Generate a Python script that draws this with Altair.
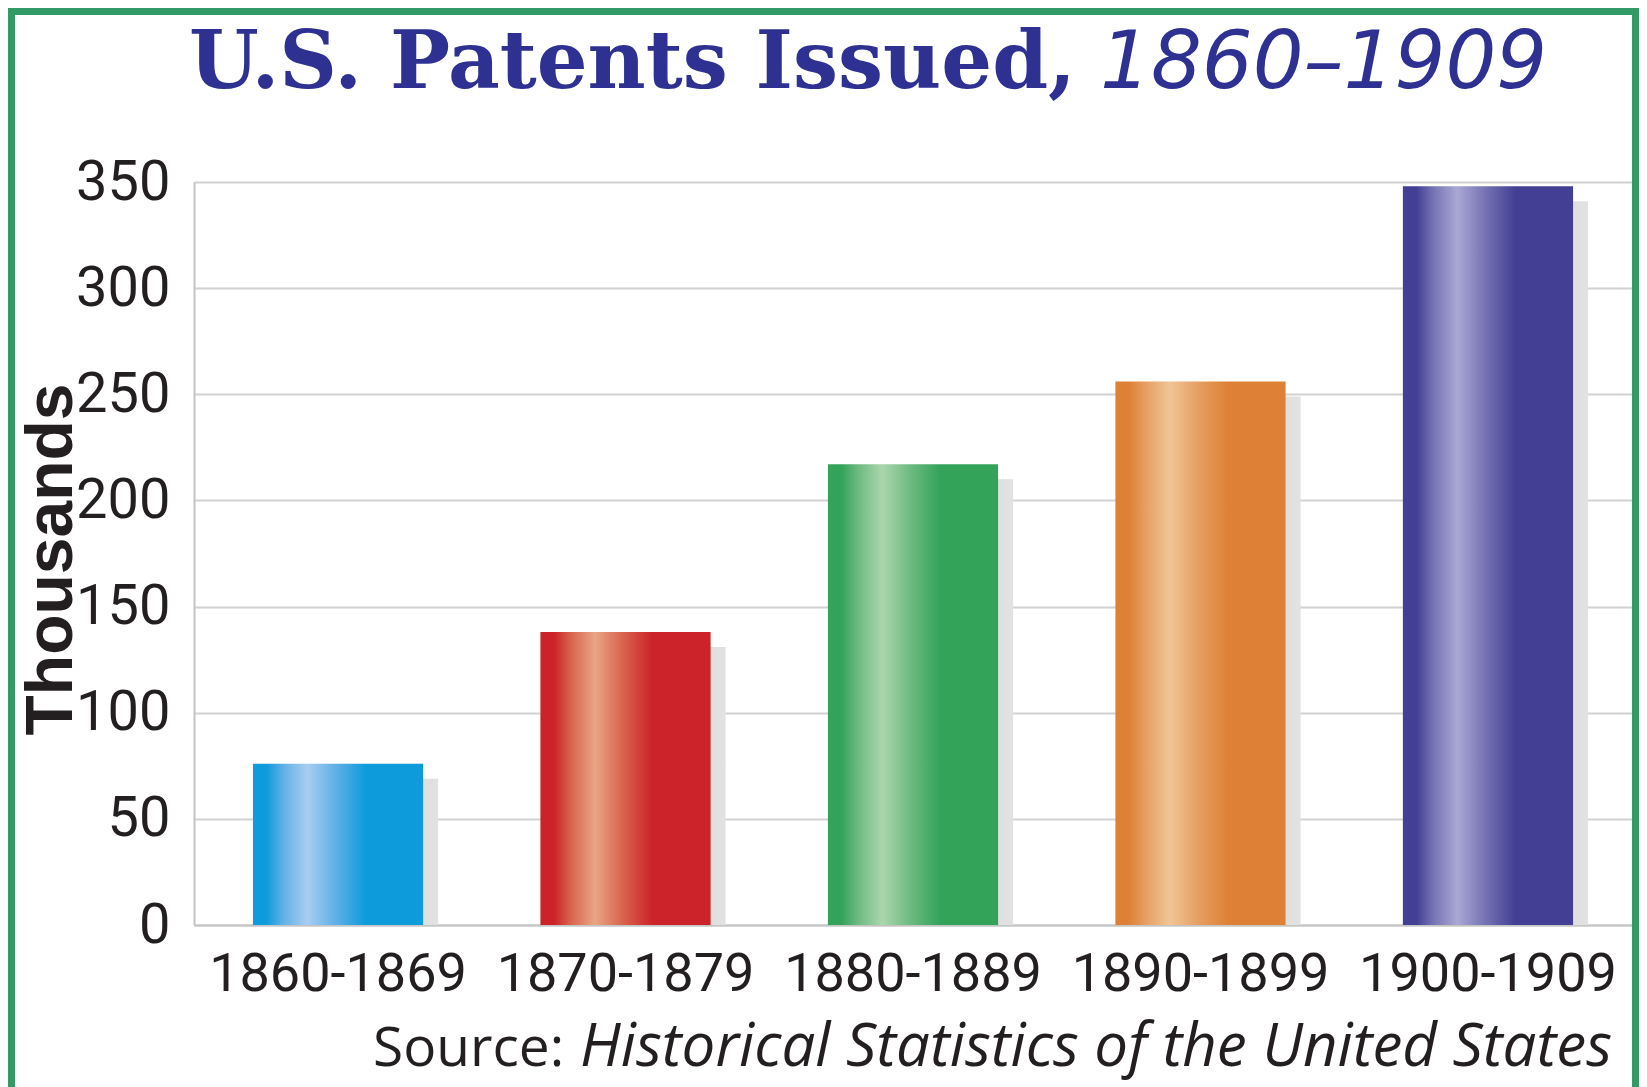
import altair as alt
import pandas as pd

# ---- data ----
categories = ["1860-1869", "1870-1879", "1880-1889", "1890-1899", "1900-1909"]
values = [76, 138, 217, 256, 348]
base_colors = ["#0e9bdc", "#cc2229", "#33a35a", "#de8136", "#433f95"]
mid_colors = ["#62b1e6", "#d8654e", "#6fbb82", "#e6a064", "#7674b4"]
light_colors = ["#a8cdf1", "#e9a586", "#abd6ad", "#f1c595", "#aaa8d4"]
y_ticks = [0, 50, 100, 150, 200, 250, 300, 350]

title_main = "U.S. Patents Issued,"
title_years = "1860\u20131909"
source_label = "Source:"
source_title = "Historical Statistics of the United States"

W, H = 1438, 743
PAD = {"left": 186, "top": 174, "right": 7, "bottom": 162}
GREEN = "#329a66"
TITLE_BLUE = "#2e3192"
AXIS_FONT = "Roboto"

df = pd.DataFrame({"period": categories, "value": values})
one = pd.DataFrame({"k": [0]})

x_enc = alt.X(
    "period:N", sort=categories,
    scale=alt.Scale(paddingInner=0.408, paddingOuter=0.205),
    axis=alt.Axis(title=None, labelFont=AXIS_FONT, labelFontSize=54, labelLimit=0,
                  labelColor="#231f20", labelPadding=22, ticks=False,
                  domainColor="#c4c4c4", domainWidth=2, labelAngle=0),
)
y_enc = alt.Y(
    "value:Q", stack=None,
    scale=alt.Scale(domain=[0, 350], nice=False, zero=True),
    axis=alt.Axis(values=y_ticks, title="Thousands", titleFont="Liberation Sans",
                  titleFontWeight="bold", titleFontSize=66, titleColor="#231f20",
                  titleAngle=270, titleX=-123, titleY=377, titleAlign="center",
                  titleBaseline="alphabetic",
                  labelFont=AXIS_FONT, labelFontSize=56, labelLimit=0,
                  labelColor="#231f20", labelPadding=24, ticks=False,
                  grid=True, gridColor="#d2d2d2", gridWidth=2,
                  domainColor="#c4c4c4", domainWidth=2),
)

def frame(x, x2, y, y2):
    return alt.Chart(one).mark_rect(color=GREEN).encode(
        x=alt.value(x), x2=alt.value(x2), y=alt.value(y), y2=alt.value(y2))

frames = [
    frame(-186, -179, -174, H + PAD["bottom"]),
    frame(-186, W + PAD["right"], -174, -167),
    frame(W, W + PAD["right"], -174, H + PAD["bottom"]),
]

shadow_grad = alt.Gradient(
    gradient="linear", x1=0, x2=1, y1=0, y2=0,
    stops=[alt.GradientStop(offset=0, color="#c0c0c0"),
           alt.GradientStop(offset=1, color="#e2e2e2")],
)
shadow = alt.Chart(df).mark_bar(color=shadow_grad, xOffset=15, yOffset=15, y2Offset=0).encode(x=x_enc, y=y_enc)

bars = []
for cat, b, m, l in zip(categories, base_colors, mid_colors, light_colors):
    grad = alt.Gradient(
        gradient="linear", x1=0, x2=1, y1=0, y2=0,
        stops=[alt.GradientStop(offset=0.0, color=b),
               alt.GradientStop(offset=0.08, color=b),
               alt.GradientStop(offset=0.18, color=m),
               alt.GradientStop(offset=0.32, color=l),
               alt.GradientStop(offset=0.48, color=m),
               alt.GradientStop(offset=0.66, color=b),
               alt.GradientStop(offset=1.0, color=b)],
    )
    bars.append(
        alt.Chart(df).transform_filter(alt.datum.period == cat)
        .mark_bar(color=grad).encode(x=x_enc, y=y_enc)
    )

def text(t, x, y, **kw):
    return alt.Chart(one).mark_text(text=t, align="left", baseline="alphabetic", **kw).encode(
        x=alt.value(x), y=alt.value(y))

texts = [
    text(title_main, -5, -94, font="DejaVu Serif", fontWeight="bold", fontSize=80, color=TITLE_BLUE),
    text(title_years, 906, -94, font="DejaVu Sans", fontStyle="italic", fontSize=80, color=TITLE_BLUE),
    text(source_label, 179, 884, font="Open Sans", fontSize=55, color="#231f20"),
    text(source_title, 386, 884, font="Open Sans", fontStyle="italic", fontSize=60, color="#231f20"),
]

chart = alt.layer(*frames, shadow, *bars, *texts).properties(
    width=W, height=H,
    autosize=alt.AutoSizeParams(type="none"),
    padding=PAD,
    background="white",
).configure_view(stroke=None)

chart.save("out.html", embed_options={"renderer": "svg", "actions": False})
